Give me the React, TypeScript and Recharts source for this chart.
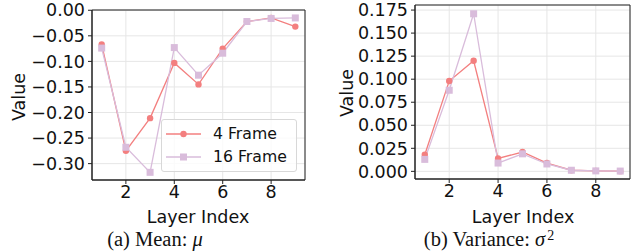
import React from 'react';
import { LineChart, Line, XAxis, YAxis, CartesianGrid, ReferenceArea } from 'recharts';

const layers = [1, 2, 3, 4, 5, 6, 7, 8, 9];
const mean4 = [-0.067, -0.275, -0.211, -0.103, -0.145, -0.075, -0.022, -0.015, -0.032];
const mean16 = [-0.074, -0.268, -0.317, -0.073, -0.127, -0.084, -0.022, -0.016, -0.015];
const var4 = [0.018, 0.098, 0.12, 0.014, 0.021, 0.009, 0.0012, 0.0005, 0.0002];
const var16 = [0.013, 0.088, 0.171, 0.009, 0.019, 0.008, 0.0012, 0.0005, 0.0003];
const xTicks = [2, 4, 6, 8];
const meanTicks = [0, -0.05, -0.1, -0.15, -0.2, -0.25, -0.3];
const varTicks = [0, 0.025, 0.05, 0.075, 0.1, 0.125, 0.15, 0.175];
const seriesNames = ['4 Frame', '16 Frame'];

const RED = '#f37f7f';
const LILAC = '#d9bcdb';
const SANS = '"DejaVu Sans", sans-serif';
const SERIF = '"Liberation Serif", "DejaVu Serif", serif';

const meanData = layers.map((l, i) => ({ layer: l, f4: mean4[i], f16: mean16[i] }));
const varData = layers.map((l, i) => ({ layer: l, f4: var4[i], f16: var16[i] }));

const fmt = (d: number) => (v: number) => {
  const s = Math.abs(v).toFixed(d);
  return v < -1e-9 ? '\u2212' + s : s;
};

const SquareDot = (props: any) => {
  const { cx, cy, index } = props;
  if (cx == null || cy == null) return null;
  return <rect key={`sq-${index}`} x={cx - 3.5} y={cy - 3.5} width={7} height={7} fill={LILAC} />;
};

// drawn over the left panel, lower right corner
const LegendBox = () => (
  <div
    style={{
      position: 'absolute',
      left: 161,
      top: 119,
      width: 136,
      height: 53,
      border: '1px solid #d8d8d8',
      borderRadius: 3,
      background: 'rgba(255,255,255,0.8)',
      fontFamily: SANS,
      fontSize: 15.7,
      color: '#111',
      boxSizing: 'border-box',
    }}
  >
    {seriesNames.map((name, i) => {
      const color = i === 0 ? RED : LILAC;
      return (
        <div key={name} style={{ position: 'absolute', left: 0, top: 4 + i * 23, height: 20, width: 134 }}>
          <svg width={40} height={20} style={{ position: 'absolute', left: 3, top: 0 }}>
            <line x1={1} y1={10} x2={36} y2={10} stroke={color} strokeWidth={1.3} />
            {i === 1 ? (
              <rect x={15} y={6.5} width={7} height={7} fill={color} />
            ) : (
              <circle cx={18.5} cy={10} r={3.2} fill={color} />
            )}
          </svg>
          <span style={{ position: 'absolute', left: 51, top: 0, lineHeight: '20px' }}>{name}</span>
        </div>
      );
    })}
  </div>
);

const tickStyle = { fill: '#111', fontSize: 17.5, fontFamily: SANS };

interface PanelProps {
  data: any[];
  domain: [number, number];
  ticks: number[];
  digits: number;
  yWidth: number;
  width: number;
  margin: { top: number; right: number; bottom: number; left: number };
}

const Panel: React.FC<PanelProps> = ({ data, domain, ticks, digits, yWidth, width, margin }) => (
  <LineChart width={width} height={252} data={data} margin={margin}>
    <CartesianGrid stroke="#e6e6e6" strokeWidth={1} />
    <XAxis
      dataKey="layer"
      type="number"
      domain={[0.6, 9.4]}
      ticks={xTicks}
      interval={0}
      height={40}
      stroke="#222"
      tickSize={4}
      tick={tickStyle}
      tickMargin={2}
      allowDataOverflow
    />
    <YAxis
      type="number"
      domain={domain}
      ticks={ticks}
      interval={0}
      width={yWidth}
      stroke="#222"
      tickSize={4}
      tick={tickStyle}
      tickMargin={3}
      tickFormatter={fmt(digits)}
      allowDataOverflow
    />
    <ReferenceArea x1={0.6} x2={9.4} y1={domain[0]} y2={domain[1]} fill="none" stroke="#222" strokeWidth={1} ifOverflow="visible" />
    <Line dataKey="f4" name={seriesNames[0]} stroke={RED} strokeWidth={1.3} dot={{ r: 3.2, fill: RED, stroke: 'none' }} isAnimationActive={false} />
    <Line dataKey="f16" name={seriesNames[1]} stroke={LILAC} strokeWidth={1.3} dot={<SquareDot />} isAnimationActive={false} />
  </LineChart>
);

const label = (text: React.ReactNode, x: number, y: number, extra: React.CSSProperties = {}) => (
  <div
    style={{
      position: 'absolute',
      left: x,
      top: y,
      transform: 'translate(-50%, -50%)',
      whiteSpace: 'nowrap',
      fontFamily: SANS,
      fontSize: 17.5,
      lineHeight: 1,
      color: '#111',
      ...extra,
    }}
  >
    {text}
  </div>
);

export default function App() {
  return (
    <div style={{ position: 'absolute', left: 0, top: 0, width: 636, height: 252, background: '#fff', overflow: 'hidden' }}>
      <div style={{ position: 'absolute', left: 0, top: 0 }}>
        <Panel
          data={meanData}
          domain={[-0.332, 0.0005]}
          ticks={meanTicks}
          digits={2}
          yWidth={92}
          width={320}
          margin={{ top: 10, right: 15, bottom: 32, left: 0 }}
        />
      </div>
      <LegendBox />
      <div style={{ position: 'absolute', left: 320, top: 0 }}>
        <Panel
          data={varData}
          domain={[-0.0083, 0.1805]}
          ticks={varTicks}
          digits={3}
          yWidth={95}
          width={316}
          margin={{ top: 5, right: 6, bottom: 33, left: 0 }}
        />
      </div>
      {label('Value', 20, 97, { transform: 'translate(-50%, -50%) rotate(-90deg)' })}
      {label('Value', 348, 93, { transform: 'translate(-50%, -50%) rotate(-90deg)' })}
      {label('Layer Index', 198, 218)}
      {label('Layer Index', 523, 218)}
      {label(<span>(a) Mean: <i>μ</i></span>, 155, 239, { fontFamily: SERIF, fontSize: 20.5 })}
      {label(
        <span>
          (b) Variance: <i>σ</i>
          <span style={{ fontSize: 14, position: 'relative', top: -6, marginLeft: 2 }}>2</span>
        </span>,
        489,
        239,
        { fontFamily: SERIF, fontSize: 20.5 }
      )}
    </div>
  );
}
